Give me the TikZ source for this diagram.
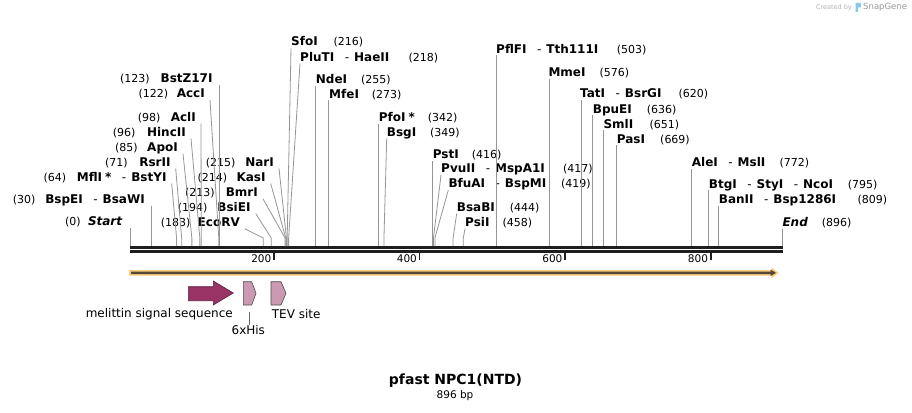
\documentclass[tikz,border=0pt]{standalone}
\usepackage{fontspec}
\setmainfont{DejaVu Sans}
\usetikzlibrary{calc}
\definecolor{cutgray}{RGB}{150,150,150}
\definecolor{seqdark}{RGB}{30,30,30}
\definecolor{orfor}{RGB}{250,204,122}
\definecolor{orfdark}{RGB}{85,72,56}
\definecolor{melc}{RGB}{153,51,102}
\definecolor{melline}{RGB}{90,30,60}
\definecolor{pinkc}{RGB}{204,153,179}
\definecolor{logoblue}{RGB}{140,200,235}
\tikzset{
  nm/.style={inner sep=0pt, font=\fontsize{12}{14}\selectfont\bfseries},
  num/.style={inner sep=0pt, font=\fontsize{11}{13}\selectfont},
  cut/.style={draw=cutgray, line width=0.8pt},
  featlbl/.style={inner sep=0pt, font=\fontsize{12}{14}\selectfont},
  ticklbl/.style={inner sep=0pt, font=\fontsize{10.5}{12}\selectfont},
  tickmark/.style={draw=seqdark, line width=1.8pt},
  seqline/.style={draw=seqdark, line width=2.6pt},
}
\newcommand\sepdash{\hspace{10.5pt}{\mdseries-}\hspace{5pt}}
\newcommand\astk{\hspace{3pt}*}
% left site: id, bp, name end x, centre y, name, number, number start x
\newcommand\siteLeft[7]{%
  \coordinate (c#1) at ({130+0.72768*#2},246);
  \node[nm,anchor=base east] (n#1) at (#3,{#4+4.3}) {#5};
  \node[num,anchor=base west] (m#1) at (#7,{#4+4.3}) {(#6)};}
% right site: id, bp, name start x, centre y, name, number, number start x
\newcommand\siteRight[7]{%
  \coordinate (c#1) at ({130+0.72768*#2},246);
  \node[nm,anchor=base west] (n#1) at (#3,{#4+4.3}) {#5};
  \node[num,anchor=base west] (m#1) at (#7,{#4+4.3}) {(#6)};}
\newcommand\lnLV[1]{\draw[cut] (c#1) -- ($(c#1 |- n#1.base)+(0,2.5)$);}
\newcommand\lnLS[1]{\draw[cut] (c#1) -- ++(0,-8) -- ($(n#1.base east)+(5,2.5)$);}
\newcommand\lnRV[1]{\draw[cut] (c#1) -- ($(c#1 |- n#1.base)+(0,2)$);}
\newcommand\lnRS[1]{\draw[cut] (c#1) -- ++(0,-8) -- ($(n#1.base west)+(0,2.5)$);}

\begin{document}
\begin{tikzpicture}[x=1pt,y=-1pt]
\useasboundingbox (0,0) rectangle (912,412);
\fill[white] (0,0) rectangle (912,412);

% created by
\node[inner sep=0pt, anchor=east, text=black!30, font=\fontsize{6.5}{8}\selectfont] (cb) at (852,7.5) {Created by};
\fill[logoblue] (855.5,3) -- (861,3) -- (861,7.5) -- (858,7.5) -- (858,12) -- (855.5,12) -- cycle;
\node[inner sep=0pt, anchor=west, text=black!40, font=\fontsize{8.5}{10}\selectfont] (sg) at (863,7.5) {SnapGene};

% sequence lines
\coordinate (seqA) at (130,247.3);
\coordinate (seqB) at (782.5,247.3);
\draw[seqline] (seqA) -- (seqB);
\draw[seqline] ($(seqA)+(0,4.4)$) -- ($(seqB)+(0,4.4)$);

% ticks
\foreach \t in {200,400,600,800}{
  \coordinate (t\t) at ({130+0.72768*\t-1.5},252.5);
  \draw[tickmark] (t\t) -- ++(0,7.5);
  \node[ticklbl,anchor=base east] (tl\t) at ($(t\t)+(-2.5,10)$) {\t};
}

% restriction sites, left group
\siteLeft{L0}{0}{122.7}{221}{\textit{Start}}{0}{65}
\siteLeft{L30}{30}{145}{199}{BspEI\sepdash BsaWI}{30}{12.7}
\siteLeft{L64}{64}{166.7}{176.7}{MflI\astk\sepdash BstYI}{64}{43.3}
\siteLeft{L71}{71}{170.7}{161.7}{RsrII}{71}{105}
\siteLeft{L85}{85}{178}{147}{ApoI}{85}{115}
\siteLeft{L96}{96}{186}{131.7}{HincII}{96}{112.7}
\siteLeft{L98}{98}{196}{116.7}{AclI}{98}{137.7}
\siteLeft{L122}{122}{205}{93.3}{AccI}{122}{138.3}
\siteLeft{L123}{123}{212.7}{78.3}{BstZ17I}{123}{120}
\siteLeft{L183}{183}{240}{222}{EcoRV}{183}{160.7}
\siteLeft{L194}{194}{250.7}{206.7}{BsiEI}{194}{177.7}
\siteLeft{L213}{213}{258}{192}{BmrI}{213}{185}
\siteLeft{L214}{214}{265.7}{176.7}{KasI}{214}{197.3}
\siteLeft{L215}{215}{274}{161.7}{NarI}{215}{205.7}
\lnLV{L0}\lnLV{L30}\lnLS{L64}\lnLS{L71}\lnLS{L85}\lnLS{L96}\lnLS{L98}
\lnLS{L122}\lnLV{L123}\lnLS{L183}\lnLS{L194}\lnLS{L213}\lnLS{L214}\lnLS{L215}

% restriction sites, right group
\siteRight{R216}{216}{291}{41.7}{SfoI}{216}{333.3}
\siteRight{R218}{218}{300}{56.7}{PluTI\sepdash HaeII}{218}{408.3}
\siteRight{R255}{255}{315.7}{79.3}{NdeI}{255}{361}
\siteRight{R273}{273}{329}{94}{MfeI}{273}{371.7}
\siteRight{R342}{342}{378.7}{117.3}{PfoI\astk}{342}{427.7}
\siteRight{R349}{349}{386.7}{131.7}{BsgI}{349}{430}
\siteRight{R416}{416}{432.7}{154.3}{PstI}{416}{471.7}
\siteRight{R417}{417}{441}{168.3}{PvuII\sepdash MspA1I}{417}{563}
\siteRight{R419}{419}{448.3}{183.3}{BfuAI\sepdash BspMI}{419}{561}
\siteRight{R444}{444}{456.7}{206.7}{BsaBI}{444}{509.7}
\siteRight{R458}{458}{465}{222}{PsiI}{458}{502.5}
\siteRight{R503}{503}{496}{49}{PflFI\sepdash Tth111I}{503}{616.7}
\siteRight{R576}{576}{548.3}{72.7}{MmeI}{576}{599.3}
\siteRight{R620}{620}{580}{93.3}{TatI\sepdash BsrGI}{620}{678.3}
\siteRight{R636}{636}{592.7}{109}{BpuEI}{636}{646.7}
\siteRight{R651}{651}{603.3}{124}{SmlI}{651}{649.3}
\siteRight{R669}{669}{616.7}{139}{PasI}{669}{660}
\siteRight{R772}{772}{691.7}{162.3}{AleI\sepdash MslI}{772}{779.3}
\siteRight{R795}{795}{708.7}{184}{BtgI\sepdash StyI\sepdash NcoI}{795}{847.7}
\siteRight{R809}{809}{718.7}{199.3}{BanII\sepdash Bsp1286I}{809}{857.3}
\siteRight{R896}{896}{782.3}{222.3}{\textit{End}}{896}{821.7}
\lnRS{R216}\lnRS{R218}\lnRV{R255}\lnRV{R273}\lnRV{R342}\lnRS{R349}\lnRV{R416}
\lnRS{R417}\lnRS{R419}\lnRS{R444}\lnRS{R458}\lnRV{R503}\lnRV{R576}\lnRV{R620}
\lnRV{R636}\lnRV{R651}\lnRV{R669}\lnRV{R772}\lnRV{R795}\lnRV{R809}\lnRV{R896}

% ORF arrow
\fill[orfor] (129,270) -- (771.7,270) -- (771.7,267.7) -- (778.5,272.85) -- (771.7,278) -- (771.7,275.7) -- (129,275.7) -- cycle;
\fill[orfdark] (131,271.7) -- (770.5,271.7) -- (770.5,269.6) -- (776,272.85) -- (770.5,276.1) -- (770.5,274) -- (131,274) -- cycle;

% features
\draw[fill=melc, draw=melline, line width=0.6pt] (188.3,286.7) -- (213.3,286.7) -- (213.3,281) -- (233.3,293) -- (213.3,305) -- (213.3,300.7) -- (188.3,300.7) -- cycle;
\draw[fill=pinkc, draw=black!70, line width=0.6pt] (243.3,281.7) -- (251.7,281.7) -- (256,293.3) -- (251.7,305) -- (243.3,305) -- cycle;
\draw[fill=pinkc, draw=black!70, line width=0.6pt] (271,281.7) -- (281,281.7) -- (286,293.3) -- (281,305) -- (271,305) -- cycle;
\coordinate (hisfoot) at (249.3,311.5);
\node[featlbl, anchor=east] (mel) at (233,314.3) {melittin signal sequence};
\node[featlbl, anchor=west] (tev) at (271.7,314.3) {TEV site};
\node[featlbl] (his) at (248.3,330) {6xHis};
\draw[draw=black!60, line width=0.6pt] (hisfoot) -- (hisfoot |- his.north);

% title
\node[inner sep=0pt, font=\fontsize{14}{16}\selectfont\bfseries] (title) at (455.5,381) {pfast NPC1(NTD)};
\node[inner sep=0pt, font=\fontsize{10.5}{12}\selectfont] (len) at (455,396) {896 bp};
\end{tikzpicture}
\end{document}
